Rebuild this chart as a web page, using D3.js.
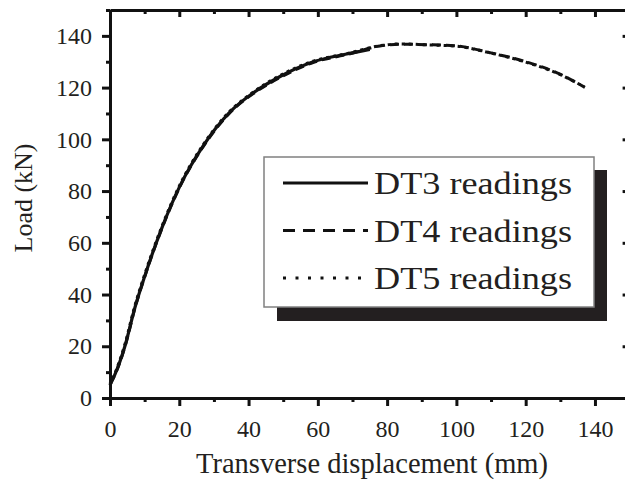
<!DOCTYPE html>
<html>
<head>
<meta charset="utf-8">
<script src="https://cdn.jsdelivr.net/npm/d3@7"></script>
<style>
  body { margin: 0; background: #fff; }
  text { font-family: "Liberation Serif", "Times New Roman", serif; fill: #231f20; }
</style>
</head>
<body>
<div id="chart"></div>
<script>
// displacement (mm) and load (kN)
var dt3Disp = [0, 1.4, 4.3, 7.2, 10, 14.9, 20.2, 26.9, 34.6, 41.4, 49.1, 58.7, 68.3, 75];
var dt3Load = [5, 9, 20, 35, 47, 65.5, 82, 97.5, 110.5, 118, 124.3, 130, 133, 134.8];

var dt4Disp = [0, 1.5, 4.4, 7.3, 10.1, 15, 20.3, 27, 34.7, 41.5, 49.2, 58.8, 68.4, 77.9, 83.7, 91.4, 100, 109.7, 119.3, 128.9, 137.1];
var dt4Load = [5.5, 9.2, 20.2, 35.2, 47.2, 65.6, 82, 97.4, 110.4, 117.8, 124, 129.8, 132.8, 136.1, 136.8, 136.6, 136.1, 133.5, 130.3, 125.8, 120.1];

var dt5Disp = [0, 1.3, 4.2, 7.1, 9.9, 14.8, 20.1, 26.8, 34.5, 41.3, 49, 58.6, 68.2, 78, 83.8, 91.5, 100.1, 109.8, 119.4, 129, 136.9];
var dt5Load = [5, 9.1, 20.3, 35.3, 47.3, 65.7, 82.2, 97.7, 110.7, 118.2, 124.6, 130.2, 133.1, 136.2, 136.9, 136.5, 136, 133.4, 130.1, 125.6, 120.3];

var xTicks = [0, 20, 40, 60, 80, 100, 120, 140];
var yTicks = [0, 20, 40, 60, 80, 100, 120, 140];
var xMinor = [10, 30, 50, 70, 90, 110, 130, 150];
var yMinor = [10, 30, 50, 70, 90, 110, 130, 150];
var legendLabels = ["DT3 readings", "DT4 readings", "DT5 readings"];

var width = 625;
var height = 481;
var margin = {left: 110, top: 10};
var plotW = 519.6;
var plotH = 388;

var svg = d3.select("#chart").append("svg").attr("width", width).attr("height", height);
var g = svg.append("g").attr("transform", "translate(" + margin.left + "," + margin.top + ")");

var x = d3.scaleLinear().domain([0, 150]).range([0, plotW]);
var y = d3.scaleLinear().domain([0, 150]).range([plotH, 0]);

function styleAxis(sel) {
  sel.select(".domain").attr("stroke", "#111").attr("stroke-width", 3);
  sel.selectAll(".tick line").attr("stroke", "#111").attr("stroke-width", 3);
}

// bottom axis
var bottom = g.append("g").attr("transform", "translate(0," + plotH + ")")
  .call(d3.axisBottom(x).tickValues(xTicks).tickSize(8).tickSizeOuter(0).tickFormat(d3.format("d")));
bottom.call(styleAxis);
bottom.selectAll("text").attr("font-size", 24).attr("y", 22);
g.append("g").attr("transform", "translate(0," + plotH + ")")
  .call(d3.axisBottom(x).tickValues(xMinor).tickSize(4).tickFormat(""))
  .call(styleAxis).select(".domain").remove();

// left axis
var left = g.append("g")
  .call(d3.axisLeft(y).tickValues(yTicks).tickSize(8).tickSizeOuter(0).tickFormat(d3.format("d")));
left.call(styleAxis);
left.selectAll("text").attr("font-size", 24).attr("x", -18);
g.append("g")
  .call(d3.axisLeft(y).tickValues(yMinor).tickSize(4).tickFormat(""))
  .call(styleAxis).select(".domain").remove();

// top and right frame with inward ticks
g.append("g").call(d3.axisTop(x).tickValues(xTicks).tickSize(-7).tickSizeOuter(0).tickFormat("")).call(styleAxis);
g.append("g").call(d3.axisTop(x).tickValues(xMinor).tickSize(-4).tickFormat("")).call(styleAxis).select(".domain").remove();
g.append("g").attr("transform", "translate(" + plotW + ",0)")
  .call(d3.axisRight(y).tickValues(yTicks).tickSize(-7).tickSizeOuter(0).tickFormat("")).call(styleAxis);
g.append("g").attr("transform", "translate(" + plotW + ",0)")
  .call(d3.axisRight(y).tickValues(yMinor).tickSize(-4).tickFormat("")).call(styleAxis).select(".domain").remove();

// axis titles
svg.append("text").attr("x", 372).attr("y", 473).attr("text-anchor", "middle")
  .attr("font-size", 28.5).text("Transverse displacement (mm)");
svg.append("text").attr("transform", "translate(32,198) rotate(-90)").attr("text-anchor", "middle")
  .attr("font-size", 26).text("Load (kN)");

// curves
function pts(dx, dy) { return dx.map(function(d, i) { return [d, dy[i]]; }); }
var line = d3.line().x(function(d) { return x(d[0]); }).y(function(d) { return y(d[1]); }).curve(d3.curveMonotoneX);

g.append("path").datum(pts(dt5Disp, dt5Load)).attr("d", line)
  .attr("fill", "none").attr("stroke", "#111").attr("stroke-width", 3).attr("stroke-dasharray", "3,4");
g.append("path").datum(pts(dt4Disp, dt4Load)).attr("d", line)
  .attr("fill", "none").attr("stroke", "#111").attr("stroke-width", 3).attr("stroke-dasharray", "9,5");
g.append("path").datum(pts(dt3Disp, dt3Load)).attr("d", line)
  .attr("fill", "none").attr("stroke", "#111").attr("stroke-width", 3.2);

// legend
var lg = svg.append("g").attr("transform", "translate(264,157)");
lg.append("rect").attr("x", 13).attr("y", 13).attr("width", 330).attr("height", 151).attr("fill", "#231f20");
lg.append("rect").attr("x", 0).attr("y", 0).attr("width", 330).attr("height", 150)
  .attr("fill", "#fff").attr("stroke", "#808080").attr("stroke-width", 1.5);
var dashes = [null, "12,8", "3,9.5"];
legendLabels.forEach(function(lab, i) {
  var yy = 26 + i * 47.5;
  lg.append("line").attr("x1", 19).attr("x2", 104).attr("y1", yy).attr("y2", yy)
    .attr("stroke", "#111").attr("stroke-width", 3).attr("stroke-dasharray", dashes[i]);
  lg.append("text").attr("x", 110).attr("y", yy + 11).attr("font-size", 31)
    .attr("textLength", 198).attr("lengthAdjust", "spacingAndGlyphs").text(lab);
});
</script>
</body>
</html>
